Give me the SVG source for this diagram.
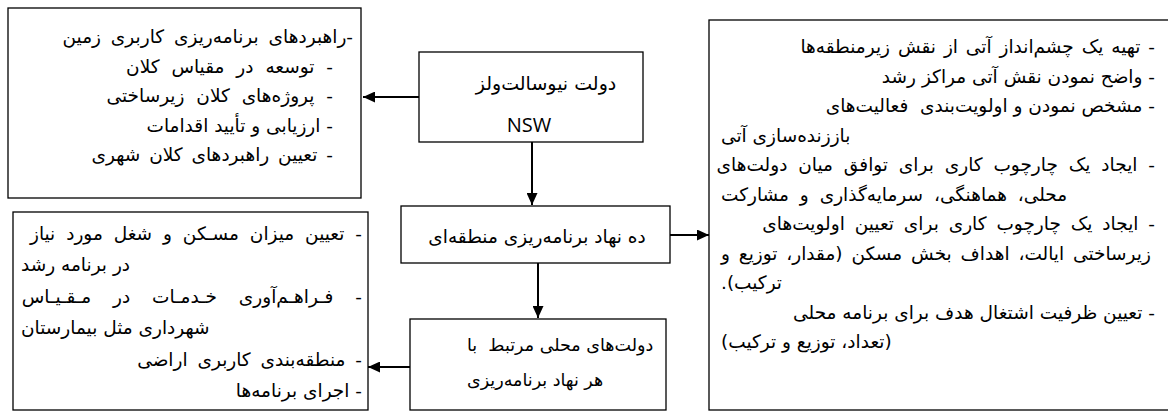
<svg xmlns="http://www.w3.org/2000/svg" width="1168" height="411" viewBox="0 0 1168 411">
<style>
.box{fill:#fff;stroke:#000;stroke-width:1.3}
.t{font-family:"DejaVu Sans",sans-serif;font-size:18.5px;fill:#000;direction:rtl;white-space:pre}
.rr{text-anchor:start}
.rl{text-anchor:end}
.rc{text-anchor:middle}
.en{font-family:"Open Sans","Noto Sans",sans-serif;font-size:20px;fill:#000}
.con line{stroke:#000;stroke-width:2;marker-end:url(#ah)}
</style>
<defs>
<marker id="ah" markerUnits="userSpaceOnUse" markerWidth="12" markerHeight="11" refX="12" refY="5.5" orient="auto">
<path d="M0,0 L12,5.5 L0,11 z" fill="#000"/>
</marker>
</defs>
<rect x="0" y="0" width="1168" height="411" fill="#fff"/>
<g id="land-use">
<rect class="box" x="8" y="8" width="353" height="190"/>
<text class="t rr" x="353" y="43" style="word-spacing:4px">-راهبردهای برنامه‌ریزی کاربری زمین</text>
<text class="t rr" x="333" y="72.5" style="word-spacing:6px">- توسعه در مقیاس کلان</text>
<text class="t rr" x="333" y="102" style="word-spacing:6px">- پروژه‌های کلان زیرساختی</text>
<text class="t rr" x="333" y="131.5">- ارزیابی و تأیید اقدامات</text>
<text class="t rr" x="333" y="161" style="word-spacing:3px">- تعیین راهبردهای کلان شهری</text>
</g>
<g id="nsw">
<rect class="box" x="419" y="52" width="224" height="90"/>
<text class="t rc" x="546" y="90" style="font-size:19px">دولت نیوسالت‌ولز</text>
<text class="en" x="529" y="132" text-anchor="middle">NSW</text>
</g>
<g id="regional">
<rect class="box" x="401" y="206" width="269" height="57"/>
<text class="t rc" x="537" y="243">ده نهاد برنامه‌ریزی منطقه‌ای</text>
</g>
<g id="local">
<rect class="box" x="410" y="319" width="256" height="91"/>
<text class="t rl" x="467" y="351" style="font-size:17.5px">دولت‌های محلی مرتبط  با</text>
<text class="t rl" x="467" y="386" style="font-size:17.5px">هر نهاد برنامه‌ریزی</text>
</g>
<g id="local-tasks">
<rect class="box" x="13" y="212" width="355" height="198"/>
<text class="t rr" x="362" y="240" style="word-spacing:5px">- تعیین میزان مسـکن و شغل مورد نیاز</text>
<text class="t rl" x="21" y="271">در برنامه رشد</text>
<text class="t rr" x="362" y="303" style="word-spacing:16px">- فـراهـم‌آوری خـدمـات در مـقـیـاس</text>
<text class="t rl" x="21" y="334">شهرداری مثل بیمارستان</text>
<text class="t rr" x="362" y="366" style="word-spacing:4px">- منطقه‌بندی کاربری اراضی</text>
<text class="t rr" x="362" y="397">- اجرای برنامه‌ها</text>
</g>
<g id="regional-tasks">
<rect class="box" x="709" y="20" width="470" height="390"/>
<text class="t rr" x="1155" y="53" style="word-spacing:2px">- تهیه یک چشم‌انداز آتی از نقش زیرمنطقه‌ها</text>
<text class="t rr" x="1155" y="82.5">- واضح نمودن نقش آتی مراکز رشد</text>
<text class="t rr" x="1155" y="112">- مشخص نمودن و اولویت‌بندی  فعالیت‌های</text>
<text class="t rl" x="721" y="141.5">باززنده‌سازی آتی</text>
<text class="t rr" x="1155" y="171" style="word-spacing:5px">- ایجاد یک چارچوب کاری برای توافق میان دولت‌های</text>
<text class="t rl" x="721" y="200.5" style="word-spacing:5px">محلی، هماهنگی، سرمایه‌گذاری و مشارکت</text>
<text class="t rr" x="1155" y="230" style="word-spacing:4px">- ایجاد یک چارچوب کاری برای تعیین اولویت‌های</text>
<text class="t rl" x="721" y="259.5" style="word-spacing:3px">زیرساختی ایالت، اهداف بخش مسکن (مقدار، توزیع و</text>
<text class="t rl" x="721" y="289">ترکیب).</text>
<text class="t rr" x="1155" y="318.5">- تعیین ظرفیت اشتغال هدف برای برنامه محلی</text>
<text class="t rl" x="721" y="348">(تعداد، توزیع و ترکیب)</text>
</g>
<g id="connectors" class="con">
<line x1="419" y1="97" x2="363" y2="97"/>
<line x1="532" y1="142" x2="532" y2="205"/>
<line x1="670" y1="235" x2="709" y2="235"/>
<line x1="538" y1="263" x2="538" y2="318"/>
<line x1="410" y1="367" x2="368" y2="367"/>
</g>
</svg>
